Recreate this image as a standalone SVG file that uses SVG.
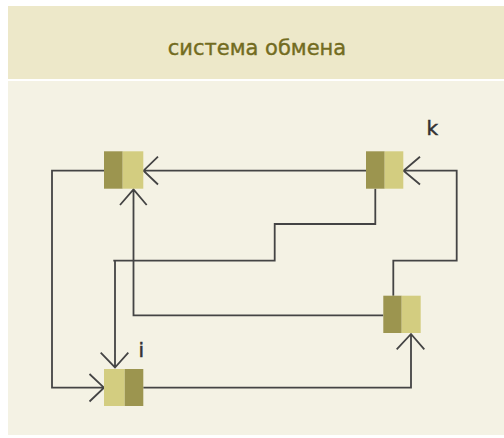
<svg xmlns="http://www.w3.org/2000/svg" width="504" height="438" viewBox="0 0 504 438">
  <defs>
    <style>
      .wire { fill: none; stroke: #444444; stroke-width: 1.8; }
      .dark { fill: #9c954f; }
      .light { fill: #d3cd80; }
      .title { font-family: "DejaVu Sans", Verdana, sans-serif; font-size: 21px; fill: #736c1f; stroke: #736c1f; stroke-width: 0.4; }
      .lbl { font-family: "DejaVu Sans", Verdana, sans-serif; font-size: 20px; fill: #333333; stroke: #333333; stroke-width: 0.5; }
    </style>
  </defs>

  <!-- page background -->
  <rect x="0" y="0" width="504" height="438" fill="#ffffff"/>
  <rect x="8" y="6" width="496" height="73" fill="#ede8c9"/>
  <rect x="8" y="81" width="496" height="354" fill="#f4f2e4"/>
  <text class="title" x="257" y="55" text-anchor="middle">система обмена</text>

  <!-- connectors -->
  <g id="connectors" class="wire">
    <!-- K -> A -->
    <path d="M366 170.7 H143.5 M158 156.7 L143.5 170.7 L158 184.5"/>
    <!-- A -> I (outer left loop) -->
    <path d="M104 170.7 H52 V387.7 H104 M89.5 374 L104 387.7 L89.5 401.5"/>
    <!-- K -> I (stepped) -->
    <path d="M375.3 188.7 V224 H274.7 V260.7 H113.3 M115 260.7 V367.5 M100.7 352.7 L115 367.5 L128.3 352.7"/>
    <!-- B -> A -->
    <path d="M383.3 315.3 H133.5 V189.3 M120 205 L133.5 189.3 L146.7 205"/>
    <!-- I -> B -->
    <path d="M143.3 387.7 H411 V334 M396.7 349.3 L411 334 L424.3 349.3"/>
    <!-- B -> K (right loop) -->
    <path d="M393.3 295.7 V260.7 H456.7 V170.7 H403.5 M420 156.7 L403.5 170.7 L420 184.5"/>
  </g>

  <!-- node A -->
  <g id="node-a">
    <rect class="dark" x="104" y="151.3" width="18.7" height="37.4"/>
    <rect class="light" x="122.7" y="151.3" width="20.6" height="37.4"/>
  </g>

  <!-- node K -->
  <g id="node-k">
    <rect class="dark" x="366" y="151.3" width="18.7" height="37.4"/>
    <rect class="light" x="384.7" y="151.3" width="18.6" height="37.4"/>
    <text class="lbl" x="426.5" y="135">k</text>
  </g>

  <!-- node B -->
  <g id="node-b">
    <rect class="dark" x="383.3" y="295.7" width="18.4" height="37.3"/>
    <rect class="light" x="401.7" y="295.7" width="19" height="37.3"/>
  </g>

  <!-- node I -->
  <g id="node-i">
    <rect class="light" x="104" y="369" width="20.7" height="37"/>
    <rect class="dark" x="124.7" y="369" width="18.6" height="37"/>
    <text class="lbl" x="138.5" y="357.3">i</text>
  </g>
</svg>
